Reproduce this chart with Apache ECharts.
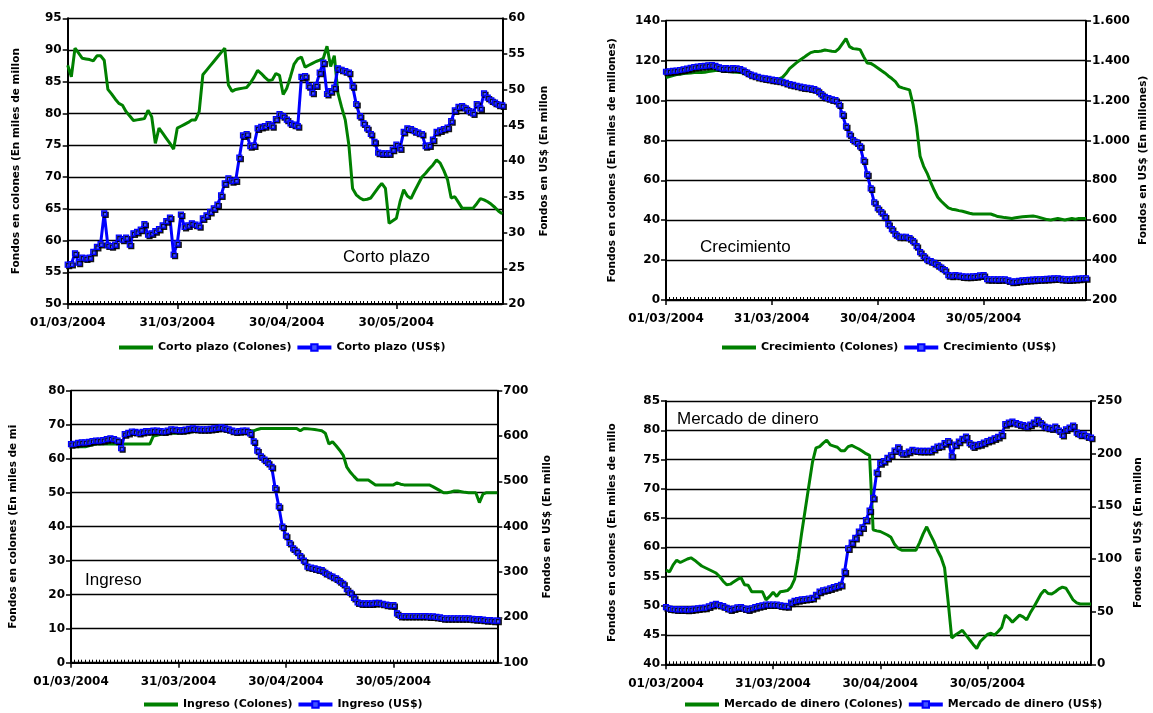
<!DOCTYPE html>
<html><head><meta charset="utf-8">
<script src="https://cdn.jsdelivr.net/npm/echarts@6/dist/echarts.min.js"></script>
<style>html,body{margin:0;padding:0;background:#fff}#c{width:1153px;height:713px}</style>
</head><body><div id="c"></div>
<script>
// ---------- categories (daily, 01/03/2004 .. 28/06/2004) ----------
const categories = [];
(function(){
  const d = new Date(Date.UTC(2004, 2, 1));
  for (let i = 0; i < 120; i++) {
    const dd = String(d.getUTCDate()).padStart(2,'0');
    const mm = String(d.getUTCMonth()+1).padStart(2,'0');
    categories.push(dd + '/' + mm + '/' + d.getUTCFullYear());
    d.setUTCDate(d.getUTCDate()+1);
  }
})();

// ---------- data ----------
const cpColones = [
 87.6,85.8,90.3,89.5,88.7,88.6,88.5,88.3,89.1,89.1,
 88.4,83.8,83.1,82.3,81.6,81.3,80.3,79.6,78.9,79.0,
 79.1,79.2,80.5,79.5,75.3,77.7,76.9,76.1,75.3,74.4,
 77.7,78.0,78.3,78.6,79.0,79.0,80.3,86.1,86.8,87.5,
 88.2,88.9,89.6,90.3,84.5,83.5,83.8,83.9,84.0,84.1,
 84.8,85.7,86.8,86.3,85.7,85.2,85.3,86.3,86.0,83.0,
 84.0,85.8,87.8,88.6,88.9,87.3,87.6,87.9,88.2,88.4,
 88.7,90.6,87.4,89.1,83.2,81.0,79.0,75.0,68.2,67.2,
 66.7,66.4,66.5,66.7,67.5,68.3,69.0,68.2,62.7,63.1,
 63.5,66.1,68.0,67.0,66.6,67.8,68.9,70.0,70.6,71.3,
 71.9,72.7,72.2,71.0,69.6,66.7,66.9,66.0,65.1,65.1,
 65.1,65.1,65.8,66.6,66.4,66.1,65.7,65.2,64.6,64.2];
const cpUSD = [
 25.5,25.6,27.1,25.8,26.5,26.4,26.5,27.3,28.0,28.4,
 32.7,28.2,28.1,28.3,29.3,29.0,29.3,28.3,29.9,30.1,
 30.4,31.2,29.7,29.9,30.2,30.5,31.0,31.6,32.1,26.9,
 28.5,32.5,30.8,31.0,31.3,31.1,30.9,32.0,32.4,32.9,
 33.4,33.9,35.2,36.9,37.6,37.2,37.3,40.5,43.6,43.8,
 42.1,42.2,44.6,44.8,44.9,45.2,44.9,45.9,46.6,46.3,
 45.8,45.3,45.1,44.9,51.8,51.9,50.5,49.6,50.6,52.4,
 53.8,49.4,49.8,50.3,53.0,52.8,52.6,52.4,50.5,48.0,
 46.3,45.3,44.6,43.8,42.7,41.2,41.1,41.1,41.1,41.6,
 42.3,41.8,44.1,44.6,44.5,44.2,44.0,43.8,42.1,42.2,
 43.0,44.1,44.3,44.5,44.7,45.6,47.1,47.6,47.7,47.4,
 47.0,46.7,48.0,47.4,49.5,48.9,48.5,48.2,47.9,47.8];
const crColones = [
 111.5,112.0,112.5,113.0,113.2,113.5,113.7,113.8,114.0,114.0,
 114.0,114.2,114.5,114.8,115.0,115.0,114.8,114.6,114.5,114.3,
 114.2,114.0,113.8,113.5,113.2,113.0,112.5,112.0,111.5,111.0,
 110.8,110.6,110.8,111.6,113.5,116.0,117.5,119.0,120.3,121.5,
 122.8,124.0,124.5,124.5,124.8,125.3,125.0,124.7,124.5,126.0,
 128.5,131.0,127.0,126.0,125.8,125.5,122.0,118.8,118.6,117.5,
 116.3,115.0,113.8,112.3,111.0,109.5,107.0,106.3,105.8,105.3,
 98.0,87.0,72.0,67.0,63.5,59.0,55.0,51.5,49.5,47.8,
 46.2,45.5,45.2,44.8,44.5,44.0,43.5,43.1,43.1,43.1,
 43.1,43.1,43.1,42.5,41.8,41.6,41.3,41.1,40.9,41.2,
 41.5,41.7,41.9,42.0,42.1,41.8,41.3,40.8,40.3,40.1,
 40.5,40.9,40.5,40.1,40.5,40.9,40.5,40.9,40.9,40.9];
const crUSD = [
 1344,1346,1348,1350,1353,1356,1360,1364,1368,1370,
 1372,1374,1376,1378,1374,1366,1361,1362,1360,1362,
 1361,1358,1350,1340,1330,1325,1318,1314,1311,1308,
 1305,1302,1299,1294,1288,1282,1278,1274,1270,1266,
 1264,1261,1257,1248,1232,1218,1212,1206,1202,1180,
 1130,1070,1030,1002,990,970,900,830,760,690,
 660,640,618,580,555,530,517,517,517,510,
 495,470,440,420,402,395,386,375,362,350,
 325,322,325,322,318,317,317,318,320,323,
 325,305,304,304,303,304,304,298,292,293,
 296,298,300,301,302,303,304,305,306,307,
 308,309,306,304,303,304,306,307,309,309];
const inColones = [
 63.7,63.6,63.5,63.5,63.5,63.8,64.1,64.3,64.3,64.3,
 64.3,64.3,64.3,64.3,64.3,64.3,64.3,64.3,64.3,64.3,
 64.3,64.3,64.3,66.7,66.9,67.2,67.3,67.4,67.5,67.5,
 67.5,67.6,67.6,67.8,68.0,68.1,68.2,68.3,68.3,68.4,
 68.4,68.4,68.4,68.3,68.2,68.2,68.2,68.2,68.2,68.2,
 68.2,68.2,68.6,68.9,68.9,68.9,68.9,68.9,68.9,68.9,
 68.9,68.9,68.9,68.9,68.2,68.9,68.8,68.7,68.6,68.4,
 68.2,67.5,64.3,65.0,63.8,62.5,61.0,57.5,56.0,54.8,
 53.7,53.7,53.7,53.7,53.0,52.3,52.3,52.3,52.3,52.3,
 52.3,52.9,52.5,52.3,52.3,52.3,52.3,52.3,52.3,52.3,
 52.3,51.8,51.2,50.6,50.0,50.0,50.2,50.5,50.5,50.3,
 50.1,50.0,50.0,50.0,47.1,49.6,50.0,50.0,50.0,50.0];
const inUSD = [
 582,583,585,586,586,587,589,590,590,591,
 593,595,593,590,573,604,607,610,609,607,
 609,611,611,612,612,611,610,612,615,614,
 613,613,614,616,617,616,615,615,615,616,
 617,618,619,617,615,612,610,611,612,612,
 606,588,568,555,548,541,532,485,445,400,
 380,364,352,345,335,325,312,310,308,306,
 304,298,294,290,286,280,274,262,254,243,
 233,231,231,231,231,232,232,230,228,227,
 227,209,203,203,203,203,203,203,203,203,
 202,202,201,200,198,198,198,198,198,198,
 198,198,197,196,196,195,194,194,193,193];
const mdColones = [
 56.1,55.8,57.0,57.8,57.4,57.7,58.0,58.2,57.8,57.3,
 56.8,56.5,56.2,55.9,55.6,55.0,54.2,53.6,53.7,54.1,
 54.5,54.8,53.6,53.5,52.4,52.4,52.4,52.4,51.0,51.6,
 52.3,51.6,52.4,52.5,52.6,53.2,54.5,58.1,62.5,66.5,
 70.5,74.5,77.0,77.2,77.8,78.3,77.5,77.3,77.1,76.5,
 76.5,77.2,77.4,77.1,76.8,76.4,76.0,75.7,63.0,62.8,
 62.7,62.4,62.1,61.7,60.5,59.8,59.5,59.5,59.5,59.5,
 59.5,60.8,62.3,63.5,62.2,61.0,59.5,58.3,56.5,50.7,
 44.5,45.0,45.4,45.8,45.0,44.2,43.4,42.7,43.9,44.5,
 45.1,45.3,45.0,45.6,46.3,48.4,47.9,47.2,47.8,48.4,
 48.1,47.6,48.8,49.8,50.9,52.0,52.7,52.1,52.0,52.4,
 52.9,53.2,53.0,52.0,51.0,50.5,50.3,50.3,50.3,50.3];
const mdUSD = [
 54.3,53.0,52.5,52.2,52.1,52.1,52.0,52.1,52.6,53.1,
 53.5,53.8,55.0,56.5,57.4,56.3,55.2,53.5,52.1,53.0,
 54.0,54.3,53.0,52.1,53.2,54.3,55.2,56.0,56.8,56.8,
 56.8,56.8,56.0,55.4,55.2,58.5,60.3,61.0,61.6,62.0,
 62.5,63.0,66.0,69.0,70.3,71.0,72.0,73.2,74.3,75.5,
 88.0,110.0,115.5,120.0,126.0,130.0,137.0,146.0,158.0,182.0,
 191.0,193.0,196.0,198.5,203.0,206.0,200.4,200.4,202.0,203.6,
 203.0,202.7,202.7,202.7,202.7,204.5,206.8,207.5,210.0,212.0,
 198.0,208.5,211.5,214.0,216.2,210.0,206.8,208.3,209.0,210.5,
 212.0,213.0,214.6,216.0,218.0,228.0,229.5,230.4,229.0,227.9,
 227.0,225.7,227.5,229.5,232.0,229.0,225.7,224.8,224.1,225.7,
 222.0,217.8,223.0,224.7,226.6,220.0,218.0,218.4,216.5,215.3];

// ---------- tick settings ----------
const leftTicks  = [[50,95,5],[0,140,20],[0,80,10],[40,85,5]];
const rightTicks = [[20,60,5],[200,1600,200],[100,700,100],[0,250,50]];
const seriesNames = [
  ['Corto plazo (Colones)','Corto plazo (US$)'],
  ['Crecimiento (Colones)','Crecimiento (US$)'],
  ['Ingreso (Colones)','Ingreso (US$)'],
  ['Mercado de dinero (Colones)','Mercado de dinero (US$)']];
const panelTitles = ['Corto plazo','Crecimiento','Ingreso','Mercado de dinero'];
const leftNames = ['Fondos en colones (En miles de millon','Fondos en colones (En miles de millones)',
  'Fondos en colones (En miles de mi','Fondos en colones (En miles de millo'];
const rightNames = ['Fondos en US$ (En millon','Fondos en US$ (En millones)',
  'Fondos en US$ (En millo','Fondos en US$ (En millon'];
const values = [[cpColones,cpUSD],[crColones,crUSD],[inColones,inUSD],[mdColones,mdUSD]];

// ---------- layout ----------
const layout = [
  {grid:{left:67.7, top:18.3, width:434.6, height:285.7}, lg:{left:117, top:342}, tt:{left:343, top:249},
   lGap:46, rGap:36, xm:13},
  {grid:{left:666, top:20.7, width:420, height:279.3}, lg:{left:720, top:342}, tt:{left:700, top:239},
   lGap:48, rGap:52, xm:13},
  {grid:{left:71, top:390.7, width:426.3, height:272}, lg:{left:142, top:699}, tt:{left:85, top:572},
   lGap:52, rGap:44, xm:13},
  {grid:{left:666, top:401, width:425, height:263.3}, lg:{left:683, top:699}, tt:{left:677, top:411},
   lGap:48, rGap:42, xm:14}
];

const FONT = '"DejaVu Sans", Verdana, sans-serif';
const GREEN = '#008000', BLUE = '#0000ff';
const fmtDot = v => v >= 1000 ? Math.floor(v/1000) + '.' + String(v%1000).padStart(3,'0') : String(v);

const option = {animation:false, backgroundColor:'#fff', grid:[], xAxis:[], yAxis:[], series:[], legend:[], graphic:[]};
layout.forEach((L, i) => {
  option.grid.push(Object.assign({containLabel:false}, L.grid));
  option.xAxis.push({type:'category', gridIndex:i, data:categories, boundaryGap:false, position:'bottom',
    axisLine:{onZero:false, lineStyle:{color:'#000', width:2}},
    axisTick:{show:true, inside:true, interval:0, length:3, lineStyle:{color:'#000', width:1}},
    axisLabel:{show:false}, splitLine:{show:false}});
  option.xAxis.push({type:'category', gridIndex:i, data:categories, boundaryGap:false, position:'bottom',
    axisLine:{show:false, onZero:false},
    axisTick:{show:true, interval:29, length:5, lineStyle:{color:'#000', width:1.5}},
    axisLabel:{interval:29, margin:L.xm, color:'#000', fontFamily:FONT, fontWeight:'bold', fontSize:12},
    splitLine:{show:false}});
  const lt = leftTicks[i], rt = rightTicks[i];
  option.yAxis.push({type:'value', gridIndex:i, position:'left', min:lt[0], max:lt[1], interval:lt[2],
    name:leftNames[i], nameLocation:'middle', nameGap:L.lGap,
    nameTextStyle:{color:'#000', fontFamily:FONT, fontWeight:'bold', fontSize:10.5},
    axisLine:{show:true, lineStyle:{color:'#000', width:2}},
    axisTick:{show:true, length:5, lineStyle:{color:'#000', width:1.5}},
    axisLabel:{color:'#000', fontFamily:FONT, fontWeight:'bold', fontSize:12, margin:6},
    splitLine:{show:true, lineStyle:{color:'#000', width:1.3}}});
  option.yAxis.push({type:'value', gridIndex:i, position:'right', min:rt[0], max:rt[1], interval:rt[2],
    name:rightNames[i], nameLocation:'middle', nameGap:L.rGap,
    nameTextStyle:{color:'#000', fontFamily:FONT, fontWeight:'bold', fontSize:10.5},
    axisLine:{show:true, lineStyle:{color:'#000', width:2}},
    axisTick:{show:true, length:5, lineStyle:{color:'#000', width:1.5}},
    axisLabel:{color:'#000', fontFamily:FONT, fontWeight:'bold', fontSize:12, margin:6, formatter:fmtDot},
    splitLine:{show:false}});
  option.series.push({name:seriesNames[i][0], type:'line', xAxisIndex:2*i, yAxisIndex:2*i,
    data:values[i][0], symbol:'none', lineStyle:{color:GREEN, width:3},
    itemStyle:{color:'rgba(0,0,0,0)', borderColor:'rgba(0,0,0,0)', borderWidth:0}, z:2});
  option.series.push({name:seriesNames[i][1], type:'line', xAxisIndex:2*i, yAxisIndex:2*i+1,
    data:values[i][1], symbol:'rect', symbolSize:5, showSymbol:true, showAllSymbol:true,
    lineStyle:{color:BLUE, width:3},
    itemStyle:{color:'#4455ff', borderColor:BLUE, borderWidth:1.2,
      shadowColor:'rgba(0,0,0,0.85)', shadowOffsetX:1.5, shadowOffsetY:1.5, shadowBlur:0}, z:3});
  option.legend.push({data:[{name:seriesNames[i][0], itemStyle:{opacity:0}}, {name:seriesNames[i][1]}],
    left:L.lg.left, top:L.lg.top, orient:'horizontal',
    itemWidth:34, itemHeight:8, itemGap:4, padding:0,
    lineStyle:{width:4},
    textStyle:{color:'#000', fontFamily:FONT, fontWeight:'bold', fontSize:11}});
  option.graphic.push({type:'text', left:L.tt.left, top:L.tt.top,
    style:{text:panelTitles[i], fill:'#000', font:'17px "Liberation Sans", Arial, sans-serif'}});
});

const chart = echarts.init(document.getElementById('c'), null, {renderer:'canvas'});
chart.setOption(option);
</script>
</body></html>
